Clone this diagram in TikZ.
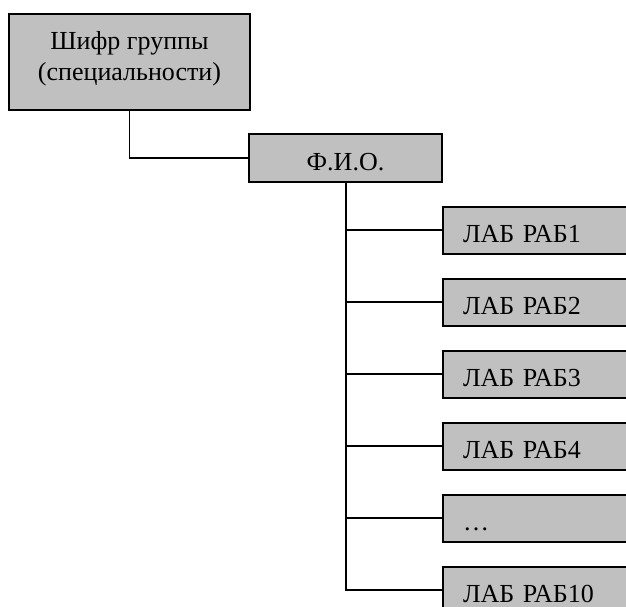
\documentclass[tikz,border=0pt]{standalone}
\usepackage{fontspec}
\setmainfont{Liberation Serif}
\definecolor{boxgray}{RGB}{192,192,192}
\begin{document}
\begin{tikzpicture}[x=1pt,y=-1pt,
  box/.style={draw=black, line width=2pt, fill=boxgray, inner sep=0pt,
    font=\fontsize{26}{31}\selectfont},
  labbox/.style={box, anchor=west, minimum height=47pt, text width=160pt,
    inner xsep=20pt, align=left, text height=24pt, text depth=0pt},
  link/.style={draw=black, line width=1.5pt}]
\useasboundingbox (0,0) rectangle (626,607);
\clip (0,0) rectangle (626,607);
\coordinate (trunk) at (346,182);
\node[box, minimum width=241pt, minimum height=96pt, align=center] (grp) at (129.5,62) {};
\node[font=\fontsize{26}{31}\selectfont, align=center, inner sep=0pt] (grptext) at (129.5,59) {Шифр группы\\(специальности)};
\node[box, minimum width=193pt, minimum height=48pt, text height=24pt, text depth=0pt] (fio) at (345.5,158) {Ф.И.О.};
\node[labbox] (lab1) at (442,230) {ЛАБ РАБ1};
\node[labbox] (lab2) at (442,302) {ЛАБ РАБ2};
\node[labbox] (lab3) at (442,374) {ЛАБ РАБ3};
\node[labbox] (lab4) at (442,446) {ЛАБ РАБ4};
\node[labbox] (lab5) at (442,518) {…};
\node[labbox] (lab6) at (442,590) {ЛАБ РАБ10};
\draw[link] (grp.south) |- (fio.west);
\draw[link] (trunk) |- (lab6.west);
\foreach \k in {1,...,5} {
  \draw[link] (trunk |- lab\k.west) -- (lab\k.west);
}
\end{tikzpicture}
\end{document}
